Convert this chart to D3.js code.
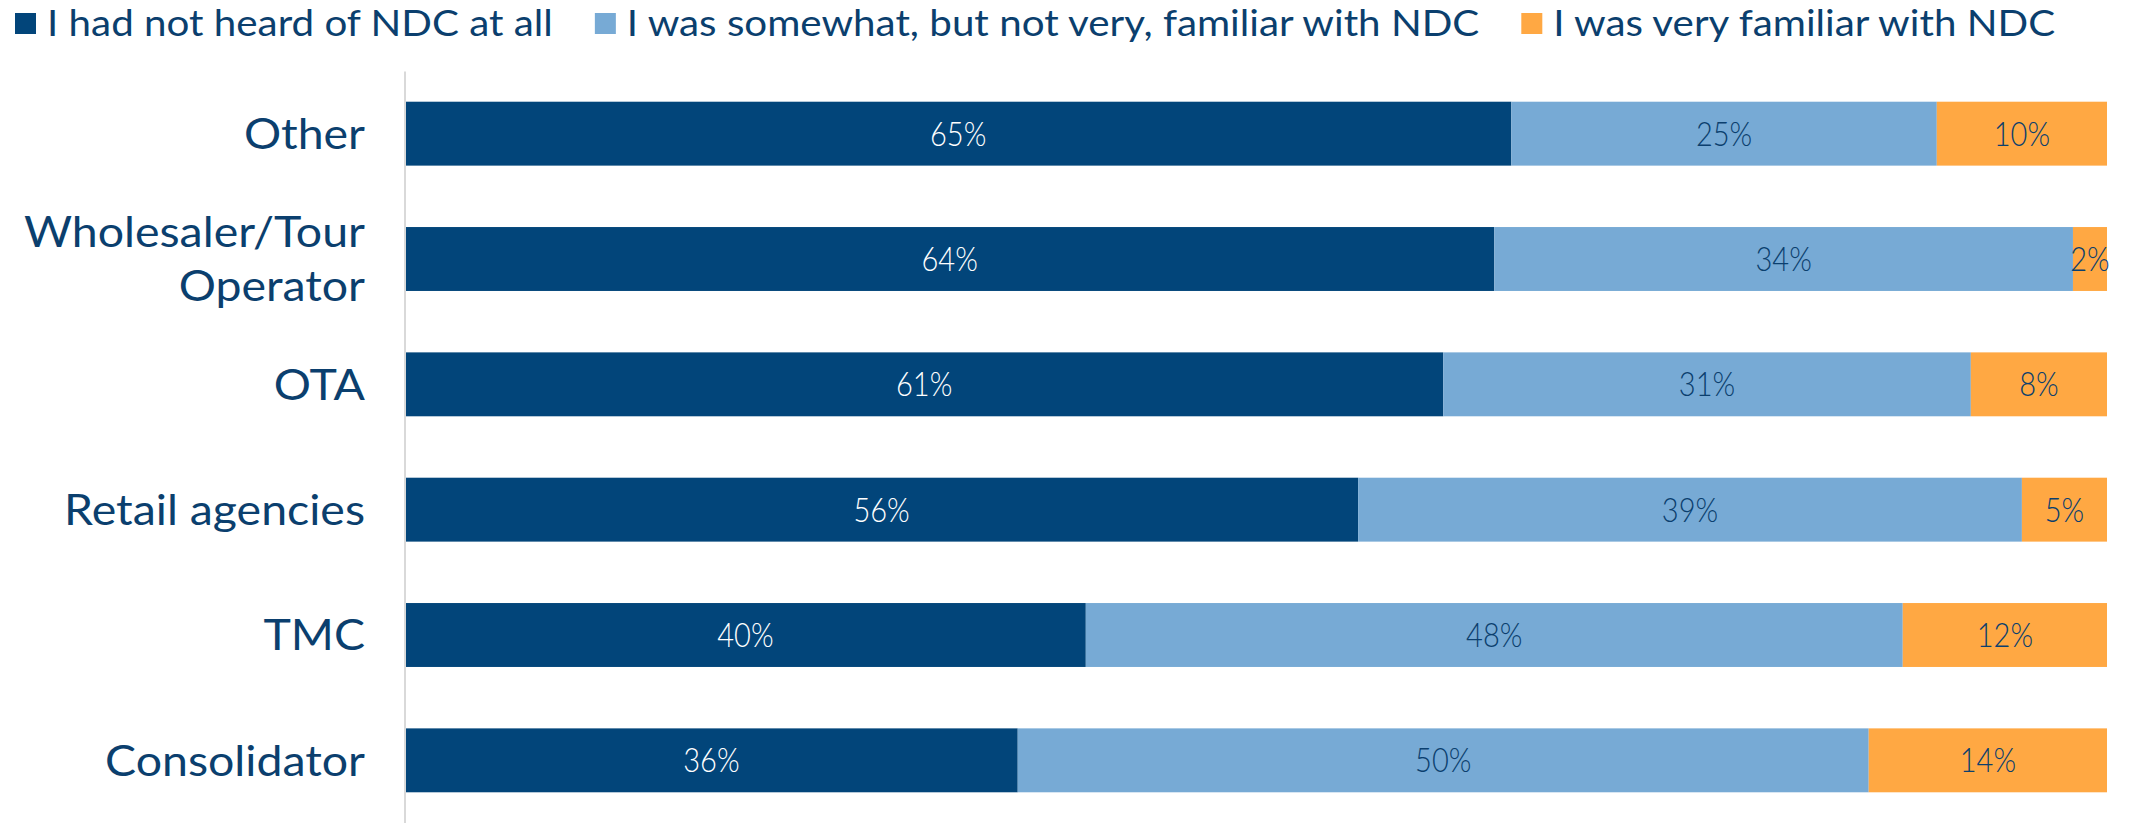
<!DOCTYPE html>
<html><head><meta charset="utf-8">
<script src="https://cdn.jsdelivr.net/npm/d3@7"></script>
<style>html,body{margin:0;padding:0;background:#fff;}svg{display:block;}</style>
</head><body>
<svg id="chart" width="2130" height="823"></svg>
<script>
const categories = ["Other", "Wholesaler/Tour Operator", "OTA", "Retail agencies", "TMC", "Consolidator"];
const categoryLines = [["Other"], ["Wholesaler/Tour", "Operator"], ["OTA"], ["Retail agencies"], ["TMC"], ["Consolidator"]];
const seriesNames = ["I had not heard of NDC at all", "I was somewhat, but not very, familiar with NDC", "I was very familiar with NDC"];
const notHeard = [65, 64, 61, 56, 40, 36];
const somewhat = [25, 34, 31, 39, 48, 50];
const veryFamiliar = [10, 2, 8, 5, 12, 14];

const colors = ["#02457A", "#77AAD5", "#FFA843"];
const labelColors = ["#FFFFFF", "#0B3F6E", "#0B3F6E"];
const textColor = "#0B3F6E";
const FONT = "Lato, 'Open Sans', sans-serif";
const SX_CAT = 1.08, SX_VAL = 0.88, SX_LEG = 1.09;

const svg = d3.select("#chart");
const margin = {left: 405, right: 23, top: 71, bottom: 0};
const W = 2130, H = 823;

const x = d3.scaleLinear().domain([0, 100]).range([margin.left, W - margin.right]);
const y = d3.scaleBand().domain(categories).range([margin.top, H - margin.bottom]).paddingInner(0.49).paddingOuter(0.245);

const rows = categories.map((c, i) => {
  const vals = [notHeard[i], somewhat[i], veryFamiliar[i]];
  let acc = 0;
  return vals.map((v, k) => { const s = {cat: c, k, v, x0: acc, x1: acc + v}; acc += v; return s; });
});

const g = svg.append("g");
rows.forEach(segs => {
  segs.forEach(s => {
    g.append("rect")
      .attr("x", x(s.x0)).attr("y", y(s.cat))
      .attr("width", x(s.x1) - x(s.x0)).attr("height", y.bandwidth())
      .attr("fill", colors[s.k]);
  });
});

function scaledText(parent, tx, ty, str, size, anchor, fill, sx, weight) {
  return parent.append("text")
    .attr("transform", `translate(${tx},${ty}) scale(${sx},1)`)
    .attr("text-anchor", anchor)
    .attr("font-family", FONT)
    .attr("font-weight", weight)
    .attr("font-size", size)
    .attr("fill", fill)
    .text(str);
}

// value labels
rows.forEach(segs => {
  segs.forEach(s => {
    const cx = (x(s.x0) + x(s.x1)) / 2;
    const cy = y(s.cat) + y.bandwidth() / 2;
    scaledText(g, cx, cy, s.v + "%", 33, "middle", labelColors[s.k], SX_VAL, 300).attr("dy", "0.36em");
  });
});

// axis line
const yAxis = d3.axisLeft(y).tickSize(0).tickFormat("");
const ax = svg.append("g").attr("transform", `translate(${margin.left - 0.5},0)`).call(yAxis);
ax.select(".domain").attr("stroke", "#D9D9D9").attr("stroke-width", 2);

// category labels
categories.forEach((c, i) => {
  const lines = categoryLines[i];
  const cy = y(c) + y.bandwidth() / 2;
  const lh = 54;
  lines.forEach((ln, j) => {
    const off = (j - (lines.length - 1) / 2) * lh;
    scaledText(svg, margin.left - 40, cy + off, ln, 43, "end", textColor, SX_CAT, 400).attr("dy", "0.36em");
  });
});

// legend
const leg = svg.append("g");
let lx = 15;
seriesNames.forEach((n, k) => {
  leg.append("rect").attr("x", lx).attr("y", 13).attr("width", 21).attr("height", 21).attr("fill", colors[k]);
  const t = scaledText(leg, lx + 32, 36, n, 37, "start", textColor, SX_LEG, 400);
  const w = t.node().getComputedTextLength() * SX_LEG;
  lx = lx + 32 + w + 42;
});
</script>
</body></html>
